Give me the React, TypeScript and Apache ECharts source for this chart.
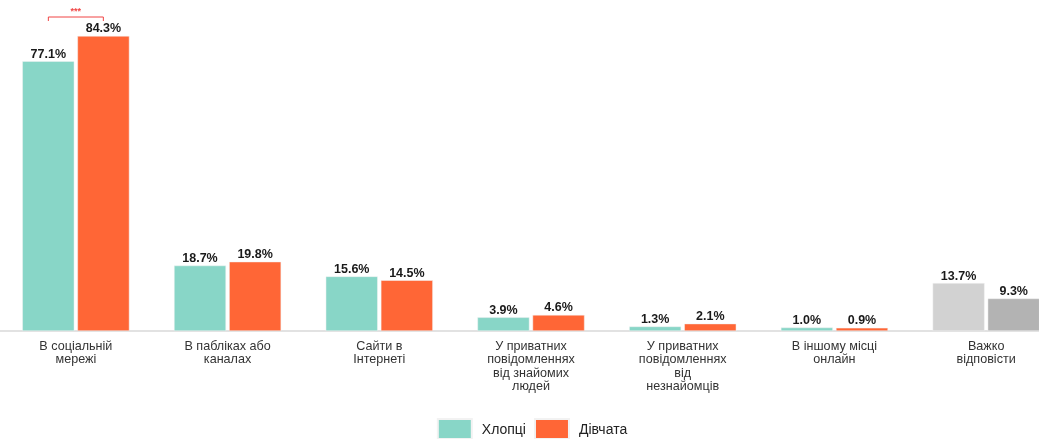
import React, { useEffect, useRef } from "react";
import * as echarts from "echarts";

const categories = [
  "В соціальній\nмережі",
  "В пабліках або\nканалах",
  "Сайти в\nІнтернеті",
  "У приватних\nповідомленнях\nвід знайомих\nлюдей",
  "У приватних\nповідомленнях\nвід\nнезнайомців",
  "В іншому місці\nонлайн",
  "Важко\nвідповісти",
];
const boys = [77.1, 18.7, 15.6, 3.9, 1.3, 1.0, 13.7];
const girls = [84.3, 19.8, 14.5, 4.6, 2.1, 0.9, 9.3];
const seriesNames = ["Хлопці", "Дівчата"];
const significance = { category: 0, text: "***" };

const TEAL = "#88d6c7";
const ORANGE = "#ff6636";
const GRAY1 = "#d2d2d2";
const GRAY2 = "#b3b3b3";

export default function App() {
  const ref = useRef<HTMLDivElement>(null);
  useEffect(() => {
    if (!ref.current) return;
    const chart = echarts.init(ref.current, null, { renderer: "svg" });
    const last = categories.length - 1;
    const mk = (vals: number[], grayColor: string) =>
      vals.map((v, i) =>
        i === last ? { value: v, itemStyle: { color: grayColor } } : v
      );
    const label = {
      show: true,
      position: "top" as const,
      distance: 1,
      fontFamily: "Liberation Sans, Arial, sans-serif",
      fontWeight: "bold" as const,
      fontSize: 12.5,
      color: "#1a1a1a",
      formatter: (p: any) => p.value.toFixed(1) + "%",
    };
    chart.setOption({
      animation: false,
      textStyle: { fontFamily: "Liberation Sans, Arial, sans-serif" },
      grid: { left: 0, right: 2, top: 16, bottom: 108, containLabel: false, outerBoundsMode: "none" },
      legend: {
        data: seriesNames,
        bottom: -6,
        left: "center",
        itemWidth: 34,
        itemHeight: 20,
        itemGap: 8,
        icon: "rect",
        textStyle: { fontSize: 14, color: "#222", padding: [0, 0, 0, 5] },
      },
      xAxis: {
        type: "category",
        data: categories,
        axisLine: { lineStyle: { color: "#e2e2e2", width: 2 } },
        axisTick: { show: false },
        axisLabel: {
          interval: 0,
          fontSize: 12.6,
          color: "#333",
          lineHeight: 13.5,
          margin: 8,
        },
      },
      yAxis: { type: "value", min: 0, max: 90, show: false, splitLine: { show: false } },
      series: [
        {
          name: seriesNames[0],
          type: "bar",
          data: mk(boys, GRAY1),
          barWidth: 52,
          barGap: "6%",
          itemStyle: { color: TEAL, borderColor: "#f2f2f2", borderWidth: 0.5 },
          label,
        },
        {
          name: seriesNames[1],
          type: "bar",
          data: mk(girls, GRAY2),
          barWidth: 52,
          barGap: "6%",
          itemStyle: { color: ORANGE, borderColor: "#f2f2f2", borderWidth: 0.5 },
          label,
        },
      ],
    });
    const c = significance.category;
    const center = chart.convertToPixel({ xAxisIndex: 0 }, c) as number;
    const half = 27.5;
    const x1 = center - half;
    const x2 = center + half;
    const y = 17;
    chart.setOption({
      graphic: [
        {
          type: "polyline",
          shape: { points: [[x1, y + 4], [x1, y], [x2, y], [x2, y + 4]] },
          style: { stroke: "#f04545", lineWidth: 1, fill: null },
        },
        {
          type: "text",
          x: center,
          y: y - 2,
          style: {
            text: significance.text,
            fill: "#f04545",
            fontSize: 9,
            fontWeight: "bold",
            textAlign: "center",
            textVerticalAlign: "bottom",
          },
        },
      ],
    });
    return () => chart.dispose();
  }, []);
  return (
    <div
      ref={ref}
      style={{ position: "fixed", left: 0, top: 0, width: 1064, height: 439 }}
    />
  );
}
